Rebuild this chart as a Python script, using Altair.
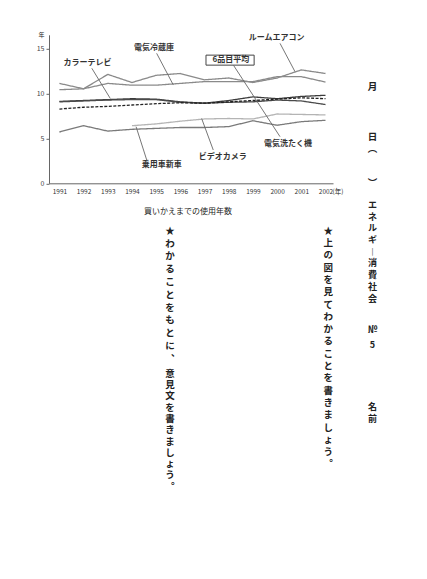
import altair as alt
import pandas as pd

FONT = "Noto Sans CJK JP"

# ---- data ----
years = list(range(1991, 2003))
aircon = [11.1, 10.5, 12.1, 11.2, 12.0, 12.2, 11.5, 11.7, 11.2, 11.7, 12.6, 12.2]
fridge = [10.4, 10.5, 11.1, 10.9, 10.9, 11.1, 11.3, 11.3, 11.3, 11.85, 11.85, 11.25]
color_tv = [9.1, 9.2, 9.3, 9.4, 9.35, 9.05, 8.9, 9.2, 9.6, 9.4, 9.65, 9.78]
washer = [9.05, 9.15, 9.25, 9.3, 9.3, 9.0, 8.9, 9.0, 9.05, 9.25, 9.15, 8.75]
average = [8.25, 8.45, 8.55, 8.7, 8.85, 8.95, 8.9, 9.05, 9.2, 9.35, 9.5, 9.4]
car = [5.7, 6.4, 5.8, 6.0, 6.1, 6.2, 6.2, 6.3, 6.95, 6.45, 6.85, 7.0]
video_years = list(range(1994, 2003))
video = [6.4, 6.6, 6.9, 7.15, 7.2, 7.15, 7.7, 7.65, 7.6]

series_names = ["ルームエアコン", "電気冷蔵庫", "カラーテレビ", "電気洗たく機",
                "6品目平均", "乗用車新車", "ビデオカメラ"]
series_colors = ["#8a8a8a", "#8a8a8a", "#3c3c3c", "#4a4a4a", "#222222", "#7a7a7a", "#b4b4b4"]
series_dash = [[1, 0], [1, 0], [1, 0], [1, 0], [3, 1.5], [1, 0], [1, 0]]
series_width = [1.3, 1.3, 1.4, 1.3, 2.2, 1.3, 1.1]

label_text = ["ルームエアコン", "電気冷蔵庫", "カラーテレビ", "6品目平均",
              "電気洗たく機", "ビデオカメラ", "乗用車新車"]
label_x = [1999.98, 1994.91, 1992.16, 1998.09, 2000.45, 1997.75, 1995.23]
label_y = [16.2, 15.0, 13.33, 13.7, 4.37, 2.96, 2.03]

leader_x = [2000.12, 1995.02, 1992.34, 1998.2, 1997.36, 1994.61]
leader_y = [15.55, 14.44, 12.78, 13.1, 3.7, 2.59]
leader_x2 = [2000.74, 1995.71, 1993.1, 2000.12, 1996.88, 1994.17]
leader_y2 = [12.4, 10.92, 9.44, 5.18, 7.2, 6.29]

y_ticks = [0, 5, 10, 15]
x_title = "買いかえまでの使用年数"

# ---- tables ----
rows = []
for name, yrs, vals in [
    ("ルームエアコン", years, aircon), ("電気冷蔵庫", years, fridge),
    ("カラーテレビ", years, color_tv), ("電気洗たく機", years, washer),
    ("6品目平均", years, average), ("乗用車新車", years, car),
    ("ビデオカメラ", video_years, video)]:
    for yr, v in zip(yrs, vals):
        rows.append({"series": name, "year": yr, "value": v})
df = pd.DataFrame(rows)
labels_df = pd.DataFrame({"t": label_text, "year": label_x, "value": label_y})
leaders_df = pd.DataFrame({"year": leader_x, "value": leader_y, "year2": leader_x2, "value2": leader_y2})
box_df = pd.DataFrame({"year": [1997.06], "year2": [1999.05], "value": [13.13], "value2": [14.24]})

W, H = 284, 148.5
OX, OY = 49, 34.8  # page position of plot origin

xs = alt.Scale(domain=[1990.57, 2002.31], nice=False, zero=False)
ys = alt.Scale(domain=[0, 16.5], nice=False, zero=False)
xaxis = alt.Axis(values=years, format="d", title=None, ticks=False, grid=False,
                 labelFontSize=6.5, labelPadding=5, labelColor="#333", labelFont=FONT,
                 domainColor="#666", domainWidth=1, labelFlush=False, labelOverlap=False)
yaxis = alt.Axis(values=y_ticks, title=None, grid=False, tickSize=3, tickColor="#666",
                 domainColor="#666", domainWidth=1, labelFontSize=7, labelPadding=2,
                 labelColor="#444", labelFont=FONT, labelFlush=False)
X = alt.X("year:Q", scale=xs, axis=xaxis)
Y = alt.Y("value:Q", scale=ys, axis=yaxis)

lines = alt.Chart(df).mark_line().encode(
    x=X, y=Y,
    color=alt.Color("series:N", scale=alt.Scale(domain=series_names, range=series_colors), legend=None),
    strokeDash=alt.StrokeDash("series:N", scale=alt.Scale(domain=series_names, range=series_dash), legend=None),
    strokeWidth=alt.StrokeWidth("series:N", scale=alt.Scale(domain=series_names, range=series_width), legend=None),
    detail="series:N",
)

leaders = alt.Chart(leaders_df).mark_rule(color="#666", strokeWidth=0.9).encode(
    x=X, y=Y, x2="year2:Q", y2="value2:Q")

box = alt.Chart(box_df).mark_rect(fill="white", stroke="#444", strokeWidth=1).encode(
    x=X, x2="year2:Q", y=Y, y2="value2:Q")

labels = alt.Chart(labels_df).mark_text(
    font=FONT, fontSize=8, fontWeight="bold", color="#333").encode(
    x=X, y=Y, text="t:N")


def page_text(txt, px, py_center, fs=10, lh=12, weight="bold", align="center"):
    d = pd.DataFrame({"t": [txt]})
    return alt.Chart(d).mark_text(
        font=FONT, fontSize=fs, fontWeight=weight, color="#222", align=align,
        baseline="top", lineBreak="\n", lineHeight=lh).encode(
        x=alt.value(px - OX), y=alt.value(py_center - OY - 0.45 * fs), text="t:N")


texts = [
    page_text("年", 41.5, 35, fs=6, weight="normal"),
    page_text("(年)", 332.5, 191.7, fs=6.5, weight="normal", align="left"),
    page_text(x_title, 188, 211.7, fs=8, weight="normal"),
    page_text("月", 372.5, 86, fs=9.5),
    page_text("日", 372.5, 136, fs=9.5),
    page_text("︵", 372.5, 148, fs=9.5),
    page_text("︶", 372.5, 182, fs=9.5),
    page_text("\n".join("エネルギ︱消費社会"), 372.5, 205, fs=9, lh=11.7),
    page_text("№\n5", 372.5, 330, fs=9, lh=15),
    page_text("名\n前", 372.5, 407, fs=9, lh=11.7),
    page_text("\n".join("★上の図を見てわかることを書きましょう︒"), 328.3, 230, fs=9.5, lh=12.3),
    page_text("\n".join("★わかることをもとに︑"), 170, 230, fs=9.5, lh=12.8),
    page_text("\n".join("意見文を書きましょう︒"), 170, 373, fs=9.5, lh=11.3),
]

chart = alt.layer(lines, leaders, box, labels, *texts).properties(
    width=W, height=H,
    autosize=alt.AutoSizeParams(type="none"),
    padding={"left": OX - 8, "top": OY - 8, "right": 411 - (OX - 8) - W, "bottom": 563 - (OY - 8) - H},
    background="white",
).configure_view(stroke=None)

chart.save("out.html", embed_options={"renderer": "svg", "actions": False})
